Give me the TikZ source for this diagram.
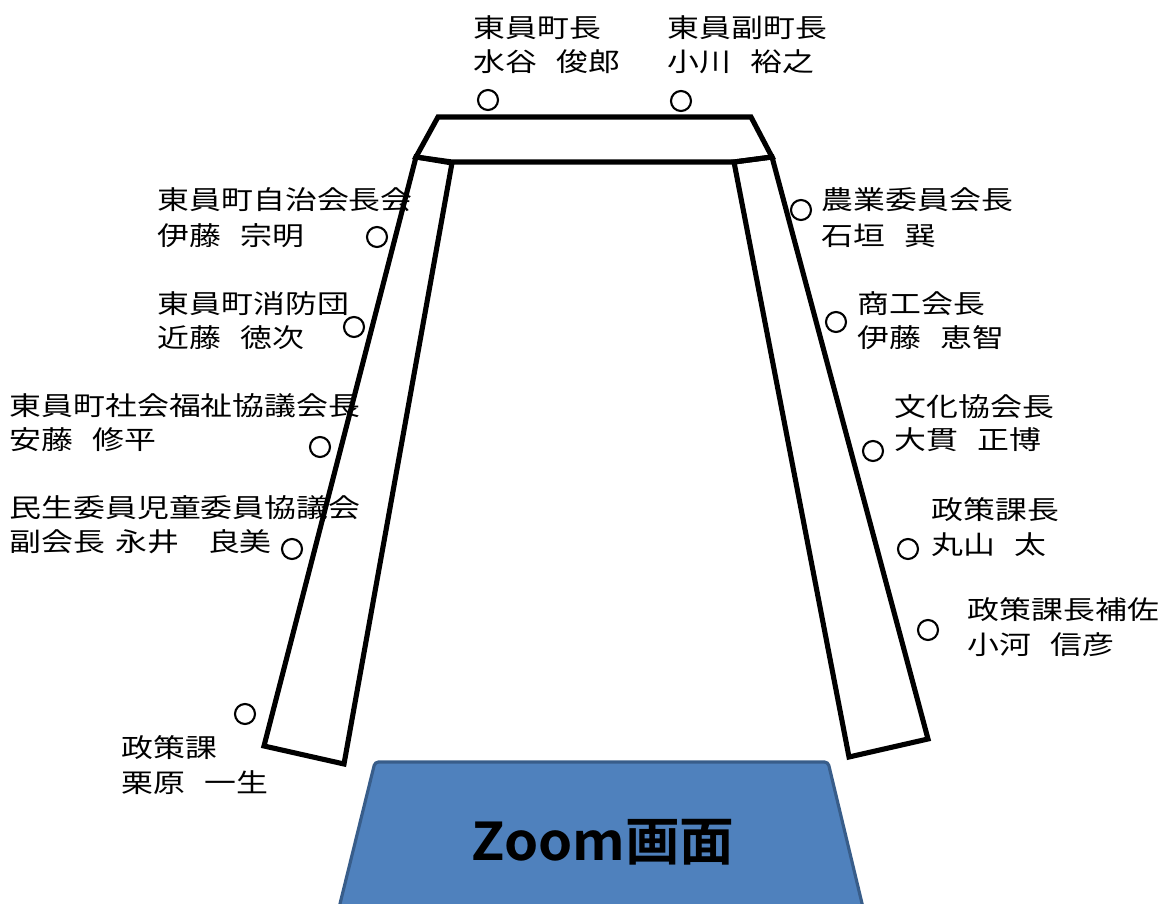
\documentclass[tikz,border=0pt]{standalone}
\usepackage{fontspec}
\newfontfamily\jfont{Noto Sans CJK JP}[FakeStretch=1.225]
\newfontfamily\jbold{Noto Sans CJK JP Bold}[FakeStretch=1.05]
\definecolor{zoomblue}{RGB}{79,129,189}
\definecolor{zoomedge}{RGB}{56,93,138}
\begin{document}
\begin{tikzpicture}[x=0.01cm,y=-0.01cm,
  lbl/.style={anchor=base west, inner sep=0pt, font=\jfont\fontsize{7.4pt}{9.7pt}\selectfont},
  seat/.style={circle, draw, line width=0.6pt, minimum size=2mm, inner sep=0pt},
  bench/.style={draw, line width=1.45pt, line join=miter},
  screen/.style={fill=zoomblue, draw=zoomedge, line width=0.9pt, rounded corners=1pt},
  big/.style={inner sep=0pt, font=\jbold\fontsize{14.8pt}{16pt}\selectfont}]
\useasboundingbox (0,0) rectangle (1160,904);
\def\gap{\hspace{0.72em}}
% labels (line baselines)
\node[lbl] (t1a) at (473,38) {東員町長};
\node[lbl] (t1b) at (473,72) {水谷\gap 俊郎};
\node[lbl] (t2a) at (667,38) {東員副町長};
\node[lbl] (t2b) at (667,72) {小川\gap 裕之};
\node[lbl] (t3a) at (157,210) {東員町自治会長会};
\node[lbl] (t3b) at (157,246) {伊藤\gap 宗明};
\node[lbl] (t4a) at (157,314) {東員町消防団};
\node[lbl] (t4b) at (157,348) {近藤\gap 徳次};
\node[lbl] (t5a) at (9,416) {東員町社会福祉協議会長};
\node[lbl] (t5b) at (9,450) {安藤\gap 修平};
\node[lbl] (t6a) at (9,518) {民生委員児童委員協議会};
\node[lbl] (t6b) at (9,552) {副会長\hspace{0.4em}永井\hspace{1.1em}良美};
\node[lbl] (t7a) at (121,758) {政策課};
\node[lbl] (t7b) at (121,793) {栗原\gap 一生};
\node[lbl] (t8a) at (821,210) {農業委員会長};
\node[lbl] (t8b) at (821,246) {石垣\gap 巽};
\node[lbl] (t9a) at (857,314) {商工会長};
\node[lbl] (t9b) at (857,348) {伊藤\gap 恵智};
\node[lbl] (t10a) at (894,417) {文化協会長};
\node[lbl] (t10b) at (894,450) {大貫\gap 正博};
\node[lbl] (t11a) at (931,520) {政策課長};
\node[lbl] (t11b) at (931,555) {丸山\gap 太};
\node[lbl] (t12a) at (967,620) {政策課長補佐};
\node[lbl] (t12b) at (967,655) {小河\gap 信彦};
% seats
\node[seat] (s1) at (488,100) {};
\node[seat] (s2) at (681,101) {};
\node[seat] (s3) at (377,237) {};
\node[seat] (s4) at (354,327) {};
\node[seat] (s5) at (320,447) {};
\node[seat] (s6) at (292,549) {};
\node[seat] (s7) at (245,714) {};
\node[seat] (s8) at (801,210) {};
\node[seat] (s9) at (836,322) {};
\node[seat] (s10) at (873,451) {};
\node[seat] (s11) at (908,549) {};
\node[seat] (s12) at (928,630) {};
% benches
\draw[bench] (438,117) -- (751,117) -- (772,157) -- (734,162) -- (452,162) -- (416,157) -- cycle;
\draw[bench] (416,157) -- (452,163) -- (344,764) -- (264,746) -- cycle;
\draw[bench] (772,157) -- (928,739) -- (849,757) -- (734,162) -- cycle;
% screen
\begin{scope}
\clip (0,0) rectangle (1160,904);
\draw[screen] (375,762) -- (828,762) -- (866,920) -- (336,920) -- cycle;
\end{scope}
\node[big] (zoomlabel) at (603,842) {Zoom画面};
\end{tikzpicture}
\end{document}
